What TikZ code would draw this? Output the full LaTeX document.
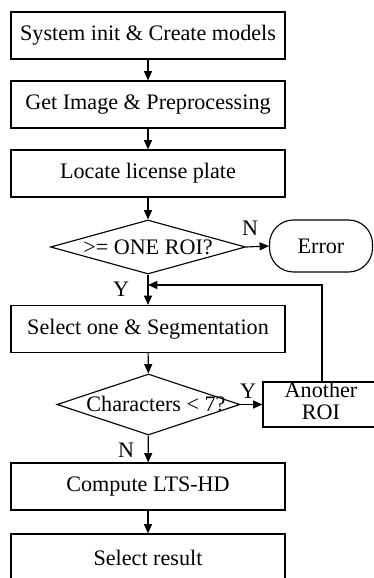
\documentclass[tikz,border=0pt]{standalone}
\usepackage{fontspec}
\setmainfont{Liberation Serif}
\usetikzlibrary{shapes.geometric,arrows.meta}
\begin{document}
\begin{tikzpicture}[x=0.75pt,y=-0.75pt,
  font=\fontsize{16.6}{18}\selectfont,
  line width=0.85pt,
  stepbox/.style={draw, minimum width=274*0.75pt, minimum height=47*0.75pt, inner sep=0pt},
  dia/.style={draw, shape=diamond, inner sep=0pt, aspect=3.5},
  arr/.style={-{Triangle[length=7pt,width=6pt]}},
  lbl/.style={inner sep=0pt}]
\useasboundingbox (0,0) rectangle (374,578);
\clip (0,0) rectangle (374,578);
\node[stepbox] (b1) at (148,35.5) {System init \& Create models};
\node[stepbox] (b2) at (148,104.5) {Get Image \& Preprocessing};
\node[stepbox] (b3) at (148,173.5) {Locate license plate};
\node[dia, minimum width=195*0.75pt, minimum height=54*0.75pt] (d1) at (148,247) {};
\node[lbl] (t1) at (148,247) {>= ONE ROI?};
\node[draw, rounded corners=18pt, minimum width=103*0.75pt, minimum height=52*0.75pt, inner sep=0pt] (err) at (321,246) {Error};
\node[stepbox] (b4) at (148,329) {Select one \& Segmentation};
\node[dia, minimum width=183*0.75pt, minimum height=61*0.75pt] (d2) at (148.5,404.5) {};
\node[lbl] (t2) at (156,404) {Characters < 7?};
\node[draw, minimum width=140*0.75pt, minimum height=45*0.75pt, inner sep=0pt] (roi) at (333,404.5) {};
\node[lbl, align=center, font=\fontsize{16.6}{17}\selectfont] (roit) at (321,401) {Another\\ROI};
\node[stepbox] (b5) at (148,486.5) {Compute LTS-HD};
\node[stepbox] (b6) at (148,557.5) {Select result};
\coordinate (fb) at (148,285);
\coordinate (up) at (322,382);
\draw[arr] (b1) -- (b2);
\draw[arr] (b2) -- (b3);
\draw[arr] (b3) -- (d1);
\draw[arr] (d1.east) -- (err.west);
\draw[arr] (d1) -- (b4);
\draw[arr] (up) |- (fb);
\draw[arr] (b4) -- (d2);
\draw[arr] (d2.east) -- (roi.west);
\draw[arr] (d2) -- (b5);
\draw[arr] (b5) -- (b6);
\node[lbl] (n1) at (250,228) {N};
\node[lbl] (y1) at (121,289) {Y};
\node[lbl] (y2) at (248,391) {Y};
\node[lbl] (n2) at (126,450) {N};
\end{tikzpicture}
\end{document}
